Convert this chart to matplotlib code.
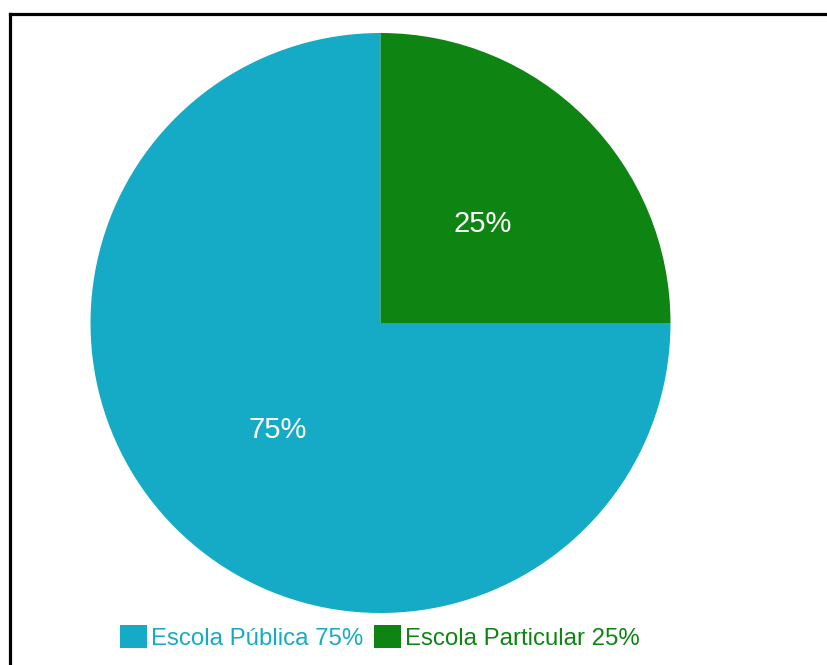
"""Share of students by school type: public vs private."""
import matplotlib.pyplot as plt
from matplotlib.patches import Patch

plt.rcParams["font.family"] = ["Liberation Sans", "DejaVu Sans"]

labels = ["Escola Pública", "Escola Particular"]
shares = [75, 25]
colors = ["#15abc6", "#0e8512"]

W, H = 828, 665
fig = plt.figure(figsize=(W / 100, H / 100), dpi=100)
ax = fig.add_axes([0, 0, 1, 1])

wedges, texts, autotexts = ax.pie(
    shares, colors=colors, startangle=90, counterclock=True,
    center=(380.5, H - 323), radius=290, autopct="%.0f%%", pctdistance=0.5,
    textprops=dict(color="white", fontsize=21),
    wedgeprops=dict(linewidth=0))
# nudge the percentage labels down a little
for t in autotexts:
    x, y = t.get_position()
    t.set_position((x, y - 4))
ax.set_xlim(0, W)
ax.set_ylim(0, H)
ax.set_aspect("equal")
ax.axis("off")

# frame line on the left and top edges
ax.plot([10.5, 10.5], [-5, H - 14], color="black", lw=2.3, solid_capstyle="projecting")
ax.plot([10.5, W + 5], [H - 14, H - 14], color="black", lw=2.3, solid_capstyle="projecting")

handles = [Patch(facecolor=c, edgecolor="none") for c in colors]
leg_labels = [f"{l} {v}%" for l, v in zip(labels, shares)]
fig.legend(handles, leg_labels, loc="center", bbox_to_anchor=(380 / W, 1 - 637.5 / H),
           ncol=2, frameon=False, fontsize=17.3, labelcolor=colors,
           handlelength=1.1, handleheight=1.08, handletextpad=0.17,
           columnspacing=0.46, borderpad=0, borderaxespad=0)

fig.savefig("out.png", dpi=100)
